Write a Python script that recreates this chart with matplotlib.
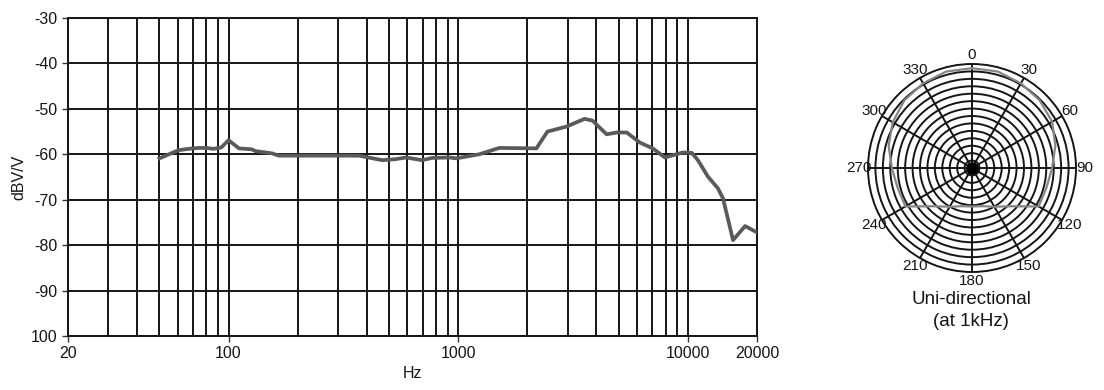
import numpy as np
import matplotlib
matplotlib.use('Agg')
import matplotlib.pyplot as plt
from matplotlib.ticker import FixedLocator, NullFormatter

plt.rcParams['font.family'] = ['Liberation Sans', 'DejaVu Sans']

# frequency response
freq = [50, 55, 60.5, 67, 74, 80, 86, 93, 100, 111, 126, 131, 155, 165,
        250, 370, 466, 530, 593, 696, 770, 914, 980, 1235, 1510, 2191,
        2447, 2963, 3550, 3846, 4430, 4898, 5416, 6170, 7030, 7940, 9510,
        10410, 11060, 12220, 13520, 14220, 15730, 17750, 20000]
level = [-60.9, -60.0, -59.1, -58.8, -58.6, -58.6, -58.8, -58.5, -56.9, -58.7,
         -58.9, -59.3, -59.8, -60.3, -60.3, -60.3, -61.3, -61.1, -60.7, -61.3,
         -60.8, -60.7, -60.9, -60.0, -58.6, -58.7, -55.0, -53.9, -52.2, -52.6,
         -55.6, -55.2, -55.2, -57.4, -58.7, -60.7, -59.6, -59.7, -61.3, -64.9,
         -67.5, -69.7, -78.9, -75.8, -77.2]

yticks = [-30, -40, -50, -60, -70, -80, -90, -100]
ylabels = ['-30', '-40', '-50', '-60', '-70', '-80', '-90', '100']
xticks = [20, 100, 1000, 10000, 20000]
xlabels = ['20', '100', '1000', '10000', '20000']

# polar pattern at 1 kHz (normalised radius)
angle = [0, 15, 30, 45, 60, 75, 90, 105, 120, 135, 150, 165, 180,
         195, 210, 225, 240, 255, 270, 285, 300, 315, 330, 345, 360]
radius = [0.96, 0.96, 0.94, 0.92, 0.89, 0.83, 0.77, 0.74, 0.74, 0.52, 0.43, 0.38, 0.37,
          0.38, 0.43, 0.52, 0.74, 0.74, 0.77, 0.83, 0.88, 0.92, 0.94, 0.96, 0.96]
angle_labels = ['0', '30', '60', '90', '120', '150', '180', '210', '240', '270', '300', '330']

ink = '#151515'
fig = plt.figure(figsize=(11.04, 3.9), dpi=100)

ax = fig.add_axes([68/1104, 1-336/390, (757-68)/1104, (336-18)/390])
ax.set_xscale('log')
ax.set_xlim(20, 20000)
ax.set_ylim(-100, -30)
ax.plot(freq, level, color='#5a5a5a', lw=2.7, zorder=3)

minor = [f*d for d in (10, 100, 1000) for f in range(2, 10) if f*d > 20]
ax.xaxis.set_major_locator(FixedLocator(xticks))
ax.set_xticklabels(xlabels)
ax.xaxis.set_minor_locator(FixedLocator(minor))
ax.xaxis.set_minor_formatter(NullFormatter())
ax.set_yticks(yticks)
ax.set_yticklabels(ylabels)
ax.grid(True, which='both', color=ink, lw=1.4)
ax.tick_params(axis='x', which='minor', length=0)
ax.tick_params(axis='both', which='major', length=4, width=1, color='#333333',
               labelsize=11.5, labelcolor=ink)
for s in ax.spines.values():
    s.set_color(ink)
    s.set_linewidth(1.4)
ax.set_xlabel('Hz', fontsize=11.5, color=ink, labelpad=3)
ax.set_ylabel('dBV/V', fontsize=11.5, color=ink, labelpad=3)

#%% polar plot
pax = fig.add_axes([868/1104, 1-272/390, 208/1104, 208/390], projection='polar')
pax.set_theta_zero_location('N')
pax.set_theta_direction(-1)
pax.set_ylim(0, 1)
pax.set_rgrids(np.arange(1, 14)/14, labels=[])
pax.set_thetagrids(np.arange(0, 360, 30), labels=angle_labels, fontsize=11, color=ink)
pax.tick_params(axis='x', pad=-4)
pax.grid(True, color=ink, lw=1.4)
pax.spines['polar'].set_color(ink)
pax.spines['polar'].set_linewidth(1.4)
pax.plot(np.radians(angle), radius, color='#858585', lw=1.6, zorder=3)
pax.plot([0], [0], 'o', color='black', ms=8, zorder=4)

fig.text(971/1104, 1-299/390, 'Uni-directional', ha='center', va='center', fontsize=13.5, color=ink)
fig.text(971/1104, 1-321/390, '(at 1kHz)', ha='center', va='center', fontsize=13.5, color=ink)

fig.savefig('out.png', dpi=100)
